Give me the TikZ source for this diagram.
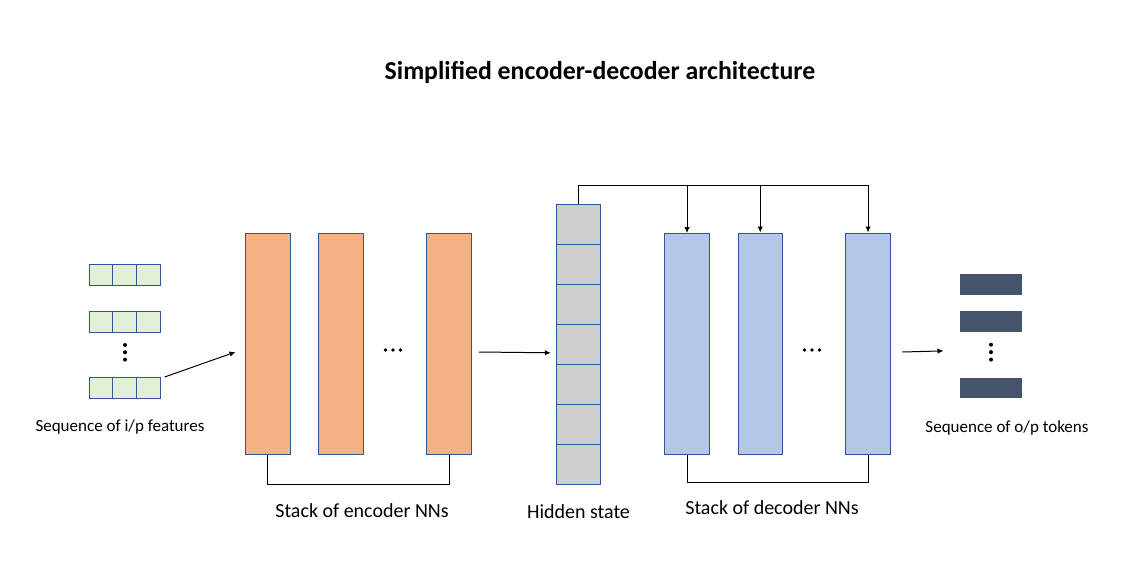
\documentclass[tikz,border=0pt]{standalone}
\usepackage{fontspec}
\setmainfont{Carlito}
\usetikzlibrary{arrows.meta,calc}
\definecolor{encfill}{HTML}{F4B183}
\definecolor{decfill}{HTML}{B4C7E7}
\definecolor{hidfill}{HTML}{D0CECE}
\definecolor{infill}{HTML}{E2F0D9}
\definecolor{outfill}{HTML}{44546A}
\definecolor{bord}{HTML}{2F5597}
\tikzset{
  blk/.style={draw=bord, line width=1pt, inner sep=0, anchor=north west},
  encbox/.style={blk, fill=encfill, minimum width=45pt, minimum height=221pt},
  decbox/.style={blk, fill=decfill, minimum width=44.5pt, minimum height=221pt},
  hidcell/.style={blk, fill=hidfill, minimum width=44pt, minimum height=40pt},
  incell/.style={blk, fill=infill, minimum width=23.7pt, minimum height=21pt},
  outtok/.style={inner sep=0, anchor=north west, fill=outfill, minimum width=62pt, minimum height=20.5pt},
  conn/.style={line width=1pt, black},
  arr/.style={conn, -{Latex[length=6pt,width=5.5pt]}},
  dotc/.style={circle, fill=black, inner sep=0, minimum size=4pt},
  lbl/.style={font=\fontsize{20}{24}\selectfont, inner sep=0},
  slbl/.style={font=\fontsize{17}{20}\selectfont, inner sep=0}
}
\begin{document}
\begin{tikzpicture}[x=1pt,y=-1pt]
\useasboundingbox[fill=white] (0,0) rectangle (1136,565);

% title
\node[font=\fontsize{25.8}{30}\selectfont\bfseries, inner sep=0] (title) at (600,72) {Simplified encoder-decoder architecture};

% input features
\foreach \r/\y in {1/264, 2/311.3, 3/377} {
  \node[incell] (in\r a) at (88.5,\y) {};
  \node[incell] (in\r b) at (112.2,\y) {};
  \node[incell] (in\r c) at (135.9,\y) {};
}
\node[dotc] (ida) at (125,345) {};
\node[dotc] (idb) at (125,352.3) {};
\node[dotc] (idc) at (125,359.6) {};
\node[slbl] (inlbl) at (120,427) {Sequence of i/p features};

% encoder blocks
\node[encbox] (e1) at (244.5,232.5) {};
\node[encbox] (e2) at (317.5,232.5) {};
\node[encbox] (e3) at (426.3,232.5) {};
\node[dotc, minimum size=3.6pt] (eda) at (385.5,350) {};
\node[dotc, minimum size=3.6pt] (edb) at (393,350) {};
\node[dotc, minimum size=3.6pt] (edc) at (400.5,350) {};
\node[lbl] (enclbl) at (362,511) {Stack of encoder NNs};

% hidden state
\foreach \i in {1,...,7} {
  \node[hidcell] (h\i) at (556.3,{204.3+40*(\i-1)}) {};
}
\node[lbl] (hidlbl) at (578.5,512) {Hidden state};

% decoder blocks
\node[decbox] (d1) at (664.3,233) {};
\node[decbox] (d2) at (737.5,232.5) {};
\node[decbox] (d3) at (845.3,232.5) {};
\node[dotc, minimum size=3.6pt] (dda) at (804.5,350) {};
\node[dotc, minimum size=3.6pt] (ddb) at (812,350) {};
\node[dotc, minimum size=3.6pt] (ddc) at (819.5,350) {};
\node[lbl] (declbl) at (772,507.5) {Stack of decoder NNs};

% output tokens
\node[outtok] (o1) at (960,274) {};
\node[outtok] (o2) at (960,311) {};
\node[outtok] (o3) at (960,377.3) {};
\node[dotc] (oda) at (991,344.7) {};
\node[dotc] (odb) at (991,352.1) {};
\node[dotc] (odc) at (991,359.6) {};
\node[slbl] (outlbl) at (1007,428) {Sequence of o/p tokens};

% connectors
\coordinate (inS) at ($(in3c.north east)+(4,0)$);
\coordinate (inE) at ($(e1.west)+(-9,8.5)$);
\draw[arr] (inS) -- (inE);

\coordinate (ehS) at ($(e3.east)+(6.5,8.5)$);
\coordinate (ehE) at ($(h4.west)+(-5.5,8)$);
\draw[arr] (ehS) -- (ehE);

\coordinate (top) at (578.3,185);
\draw[conn] (h1.north) -- (h1.north |- top) -- (d3.north |- top);
\draw[arr] (d1.north |- top) -- (d1.north);
\draw[arr] (d2.north |- top) -- (d2.north);
\draw[arr] (d3.north |- top) -- (d3.north);

\coordinate (doS) at ($(d3.east)+(11.5,8.5)$);
\coordinate (doE) at ($(o2.south west)+(-16.5,19)$);
\draw[arr] (doS) -- (doE);

% brackets
\draw[conn] (e1.south) -- ++(0,30) -| (e3.south);
\draw[conn] (d1.south) -- ++(0,27) -| (d3.south);
\end{tikzpicture}
\end{document}
